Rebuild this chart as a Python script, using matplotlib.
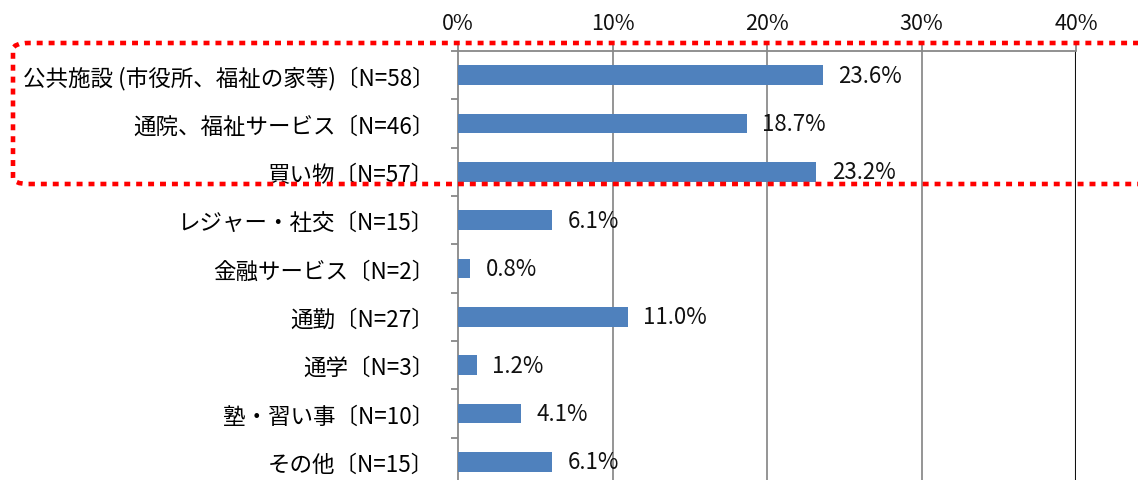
import matplotlib
matplotlib.use("Agg")
import matplotlib.pyplot as plt
from matplotlib.patches import FancyBboxPatch

plt.rcParams['font.family'] = ['Noto Sans CJK JP', 'DejaVu Sans']

categories = ["公共施設 (市役所、福祉の家等)〔N=58〕", "通院、福祉サービス〔N=46〕", "買い物〔N=57〕",
              "レジャー・社交〔N=15〕", "金融サービス〔N=2〕", "通勤〔N=27〕", "通学〔N=3〕",
              "塾・習い事〔N=10〕", "その他〔N=15〕"]
values = [23.6, 18.7, 23.2, 6.1, 0.8, 11.0, 1.2, 4.1, 6.1]
xticks = [0, 10, 20, 30, 40]
xtick_labels = ["0%", "10%", "20%", "30%", "40%"]

W, H = 1138, 481
fig = plt.figure(figsize=(W / 100, H / 100), dpi=100)
ax = fig.add_axes([458 / W, 1 - 487 / H, (1076 - 458) / W, (487 - 52) / H])

y = list(range(len(categories)))
ax.barh(y, values, height=0.41, color="#4F81BD", zorder=3)
ax.set_xlim(0, 40)
ax.set_ylim(len(categories) - 0.5, -0.5)

for yi, v in zip(y, values):
    ax.text(v + 1.0, yi, f"{v:.1f}%", va="center", ha="left", color="#111111", zorder=4,
            fontsize=16)

ax.xaxis.tick_top()
ax.set_xticks(xticks)
ax.set_xticklabels(xtick_labels, color="#111111", fontsize=15.5)
ax.tick_params(axis="x", length=6, color="#888888", width=1.3, pad=6)
ax.set_yticks(y)
ax.set_yticklabels(categories, fontsize=16.2, color="#000000")
ax.set_yticks([i - 0.5 for i in range(len(categories) + 1)], minor=True)
ax.tick_params(axis="y", which="major", length=0, pad=17)
ax.tick_params(axis="y", which="minor", length=5, color="#888888", width=1.3)

for x in [10, 20, 30]:
    ax.axvline(x, color="#8c8c8c", lw=1.3, zorder=1)
ax.axvline(40, color="#111111", lw=1.5, zorder=2)

ax.spines["top"].set_color("#888888")
ax.spines["top"].set_linewidth(1.3)
ax.spines["left"].set_color("#888888")
ax.spines["left"].set_linewidth(1.3)
ax.spines["right"].set_visible(False)
ax.spines["bottom"].set_visible(False)

# red dotted rounded box
x0, y0, x1, y1 = 13, 44, 1160, 185
box = FancyBboxPatch((x0 / W, 1 - y1 / H), (x1 - x0) / W, (y1 - y0) / H,
                     boxstyle="round,pad=0,rounding_size=0.014",
                     transform=fig.transFigure, fill=False, edgecolor="#FF0000",
                     linewidth=3.3, linestyle=(0, (1.3, 1.3)), zorder=10, clip_on=False)
box.set_capstyle("butt")
fig.patches.append(box)

fig.savefig("out.png", dpi=100, facecolor="white")
